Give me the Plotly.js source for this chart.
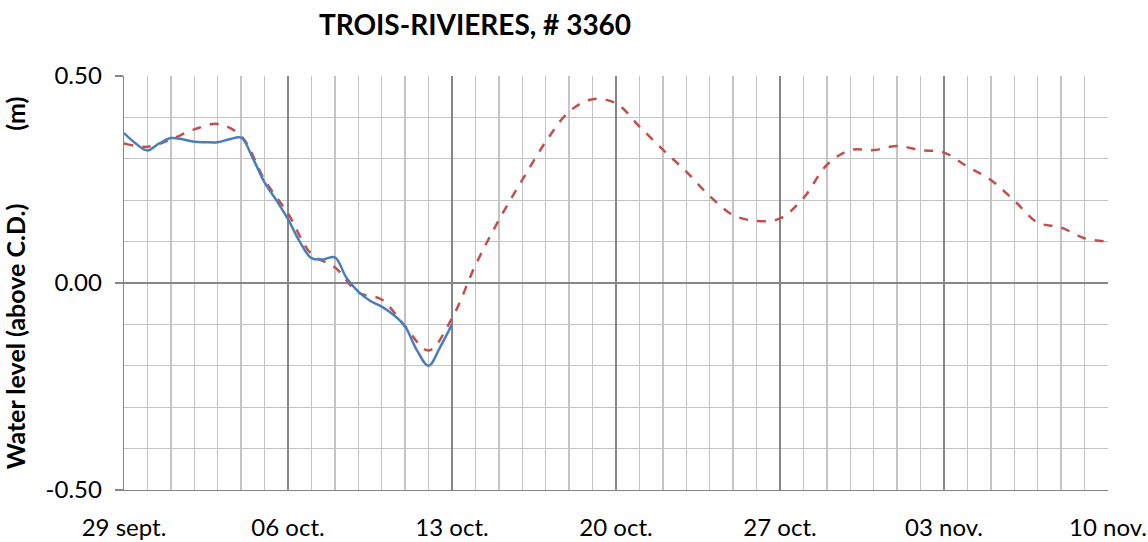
<!DOCTYPE html>
<html>
<head>
<meta charset="utf-8">
<script src="https://cdn.plot.ly/plotly-3.0.1.min.js"></script>
<style>html,body{margin:0;padding:0;background:#fff;}#chart{width:1148px;height:542px;}</style>
</head>
<body>
<div id="chart"></div>
<script>
// Predicted water level (daily, 29 sept -> 10 nov)
const predDates = [
 '2014-09-29','2014-09-30','2014-10-01','2014-10-02','2014-10-03','2014-10-04','2014-10-05',
 '2014-10-06','2014-10-07','2014-10-08','2014-10-09','2014-10-10','2014-10-11','2014-10-12',
 '2014-10-13','2014-10-14','2014-10-15','2014-10-16','2014-10-17','2014-10-18','2014-10-19',
 '2014-10-20','2014-10-21','2014-10-22','2014-10-23','2014-10-24','2014-10-25','2014-10-26',
 '2014-10-27','2014-10-28','2014-10-29','2014-10-30','2014-10-31','2014-11-01','2014-11-02',
 '2014-11-03','2014-11-04','2014-11-05','2014-11-06','2014-11-07','2014-11-08','2014-11-09',
 '2014-11-10'];
const predValues = [
 0.337,0.329,0.347,0.371,0.384,0.355,0.249,
 0.168,0.070,0.038,-0.023,-0.040,-0.105,-0.163,
 -0.085,0.043,0.152,0.249,0.341,0.414,0.444,
 0.434,0.378,0.322,0.269,0.210,0.164,0.150,
 0.156,0.205,0.285,0.321,0.321,0.331,0.321,
 0.315,0.281,0.249,0.199,0.146,0.134,0.108,
 0.100];

// Observed water level (half-daily, 29 sept -> 13 oct)
const obsDates = [
 '2014-09-29 00:00','2014-09-29 12:00','2014-09-30 00:00','2014-09-30 12:00',
 '2014-10-01 00:00','2014-10-01 12:00','2014-10-02 00:00','2014-10-02 12:00',
 '2014-10-03 00:00','2014-10-03 12:00','2014-10-04 00:00','2014-10-04 12:00',
 '2014-10-05 00:00','2014-10-05 12:00','2014-10-06 00:00','2014-10-06 12:00',
 '2014-10-07 00:00','2014-10-07 12:00','2014-10-08 00:00','2014-10-08 12:00',
 '2014-10-09 00:00','2014-10-09 12:00','2014-10-10 00:00','2014-10-10 12:00',
 '2014-10-11 00:00','2014-10-11 12:00','2014-10-12 00:00','2014-10-12 12:00',
 '2014-10-13 00:00'];
const obsValues = [
 0.362,0.337,0.320,0.337,
 0.350,0.347,0.341,0.340,
 0.340,0.347,0.351,0.301,
 0.243,0.200,0.154,0.100,
 0.060,0.057,0.062,0.012,
 -0.021,-0.043,-0.057,-0.077,
 -0.105,-0.162,-0.200,-0.154,
 -0.100];

// Axis ticks
const xTickVals = ['2014-09-29','2014-10-06','2014-10-13','2014-10-20','2014-10-27','2014-11-03','2014-11-10'];
const xTickText = ['29 sept.','06 oct.','13 oct.','20 oct.','27 oct.','03 nov.','10 nov.'];
const yTickVals = [-0.5, 0, 0.5];
const yTickText = ['-0.50','0.00','0.50'];

const FONT = 'Lato, "Open Sans", sans-serif';
const MAJOR = '#868686';
const MINOR = '#c4c4c4';
const NB = '\u00A0'.repeat(12);

const traces = [
 {x: predDates, y: predValues, type: 'scatter', mode: 'lines', name: 'Predicted',
  line: {color: '#c0504d', width: 2.5, dash: 'dash', shape: 'spline', smoothing: 1}},
 {x: obsDates, y: obsValues, type: 'scatter', mode: 'lines', name: 'Observed',
  line: {color: '#4a7ebb', width: 2.5, shape: 'spline', smoothing: 1}}
];

const layout = {
 width: 1148, height: 542,
 paper_bgcolor: '#ffffff', plot_bgcolor: '#ffffff',
 showlegend: false,
 margin: {l: 124, r: 40, t: 76, b: 52},
 font: {family: FONT, color: '#000000', size: 23},
 title: {text: '<b>TROIS-RIVIERES, # 3360</b>', font: {family: FONT, size: 28, color: '#000'},
   x: 475/1148, xanchor: 'center', xref: 'container', y: 1 - 25/542, yanchor: 'middle', yref: 'container'},
 xaxis: {
   type: 'date', range: ['2014-09-29', '2014-11-10'],
   tickmode: 'array', tickvals: xTickVals, ticktext: xTickText,
   showgrid: true, gridcolor: MAJOR, gridwidth: 1.3,
   showline: true, linecolor: MAJOR, linewidth: 1.3, mirror: false,
   ticks: 'outside', ticklen: 0, ticklabelstandoff: 16,
   tickfont: {family: FONT, size: 24, color: '#000'},
   zeroline: false, fixedrange: true,
   minor: {tickmode: 'linear', tick0: '2014-09-29', dtick: 86400000, showgrid: true, gridcolor: MINOR, gridwidth: 1.3, ticks: ''}
 },
 yaxis: {
   range: [-0.5, 0.5],
   tickmode: 'array', tickvals: yTickVals, ticktext: yTickText,
   showgrid: true, gridcolor: MAJOR, gridwidth: 1.3,
   showline: true, linecolor: MAJOR, linewidth: 1.3,
   ticks: 'outside', ticklen: 8, tickcolor: MAJOR, tickwidth: 1.3,
   ticklabelstandoff: 8,
   tickfont: {family: FONT, size: 24, color: '#000'},
   zeroline: false, fixedrange: true,
   title: {text: '<b>Water level (above C.D.)' + NB + '(m)</b>',
     font: {family: FONT, size: 25, color: '#000'}, standoff: 12},
   minor: {tickmode: 'linear', tick0: 0, dtick: 0.1, showgrid: true, gridcolor: MINOR, gridwidth: 1.3, ticks: ''}
 }
};

Plotly.newPlot('chart', traces, layout, {displayModeBar: false, staticPlot: true});
</script>
</body>
</html>
